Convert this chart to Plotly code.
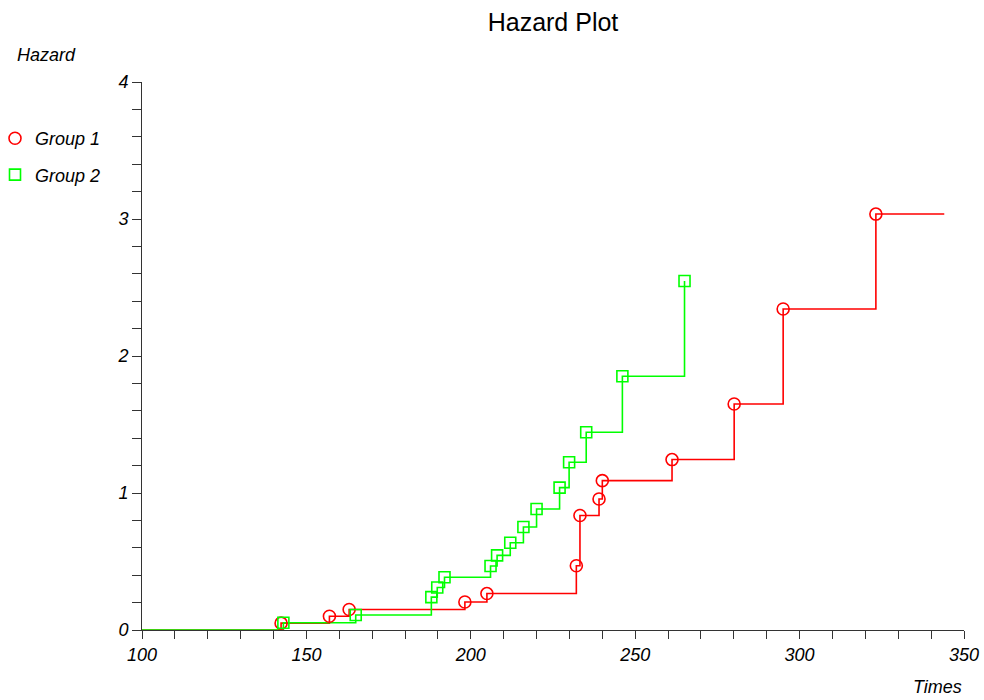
import plotly.graph_objects as go

# Cumulative hazard estimates per group: event times and hazard after each event
group1_times = [142.3, 157.0, 163.0, 198.2, 204.9, 232.1, 233.2, 239.0, 240.0,
                261.2, 280.1, 295.0, 323.2]
group1_hazard = [0.050, 0.100, 0.150, 0.204, 0.266, 0.469, 0.836, 0.956, 1.090,
                 1.244, 1.650, 2.343, 3.036]
group1_end = 344.0

group2_times = [143.0, 165.0, 188.0, 189.8, 192.0, 206.0, 208.0, 212.0, 216.0,
                220.0, 227.0, 229.9, 235.1, 246.1, 265.0]
group2_hazard = [0.053, 0.109, 0.240, 0.310, 0.385, 0.467, 0.545, 0.637, 0.752,
                 0.883, 1.039, 1.224, 1.443, 1.852, 2.547]

start_time = 100.0

RED = "#ff0000"
GREEN = "#00ff00"
FONT = "Liberation Sans, Arial, sans-serif"
TXT = 18

fig = go.Figure()

# Step curves (start at hazard 0, jump at each event)
g1x = [start_time] + group1_times + [group1_end]
g1y = [0.0] + group1_hazard + [group1_hazard[-1]]
g2x = [start_time] + group2_times
g2y = [0.0] + group2_hazard

fig.add_trace(go.Scatter(x=g1x, y=g1y, mode="lines", line=dict(color=RED, width=1.6, shape="hv"),
                         showlegend=False, hoverinfo="skip"))
fig.add_trace(go.Scatter(x=g2x, y=g2y, mode="lines", line=dict(color=GREEN, width=1.6, shape="hv"),
                         showlegend=False, hoverinfo="skip"))

# Event markers
fig.add_trace(go.Scatter(x=group1_times, y=group1_hazard, mode="markers", name="Group 1",
                         legendgroup="g1",
                         marker=dict(symbol="circle-open", size=12, color=RED, line=dict(width=1.6))))
fig.add_trace(go.Scatter(x=group2_times, y=group2_hazard, mode="markers", name="Group 2",
                         legendgroup="g2",
                         marker=dict(symbol="square-open", size=11, color=GREEN, line=dict(width=1.6))))

axis_common = dict(
    showgrid=False, zeroline=False, showline=True, linecolor="#333", linewidth=1,
    ticks="outside", tickcolor="#333", tickwidth=1,
    tickfont=dict(family=FONT, size=TXT, color="black", style="italic"),
)

fig.update_xaxes(range=[100, 350], dtick=50, tick0=100, ticklen=8,
                 minor=dict(dtick=10, ticks="outside", ticklen=8, tickcolor="#333"),
                 **axis_common)
fig.update_yaxes(range=[0, 4], dtick=1, tick0=0, ticklen=9,
                 minor=dict(dtick=0.2, ticks="outside", ticklen=9, tickcolor="#333"),
                 **axis_common)

fig.update_layout(
    width=984, height=700,
    margin=dict(l=142, r=20, t=82, b=70, autoexpand=False),
    paper_bgcolor="white", plot_bgcolor="white",
    title=dict(text="Hazard Plot", x=553 / 984, xanchor="center", y=1 - 22 / 700, yanchor="middle",
               font=dict(family=FONT, size=25, color="black")),
    legend=dict(x=(-5 - 142) / 822, xanchor="left", y=(630 - 120) / 548, yanchor="top",
                font=dict(family=FONT, size=TXT, color="black", style="italic"),
                traceorder="grouped", tracegroupgap=10, itemwidth=30,
                bgcolor="rgba(0,0,0,0)"),
    annotations=[
        dict(text="Hazard", xref="paper", yref="paper", x=(15 - 142) / 822, xanchor="left",
             y=(630 - 55) / 548, yanchor="middle", showarrow=False,
             font=dict(family=FONT, size=TXT, color="black", style="italic")),
        dict(text="Times", xref="paper", yref="paper", x=1, xanchor="right",
             y=(630 - 687) / 548, yanchor="middle", showarrow=False,
             font=dict(family=FONT, size=TXT, color="black", style="italic")),
    ],
)

fig.write_html("out.html")
